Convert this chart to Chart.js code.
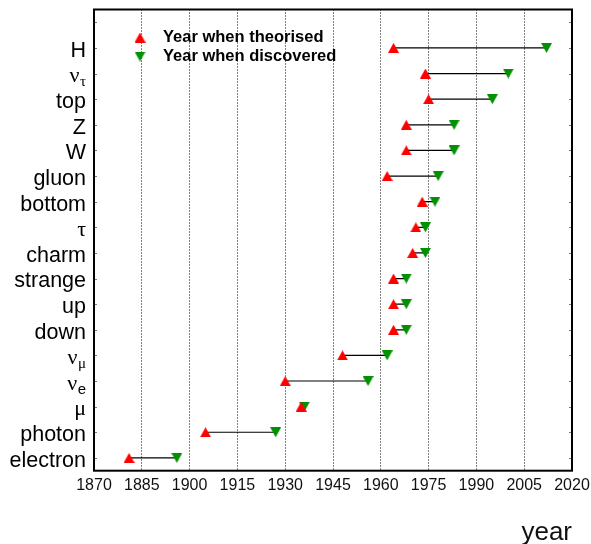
<!DOCTYPE html>
<html>
<head>
<meta charset="utf-8">
<title>Particles: theorised vs discovered</title>
<script src="https://cdn.jsdelivr.net/npm/chart.js@4/dist/chart.umd.min.js"></script>
<style>
  html, body { margin: 0; padding: 0; background: #fff; }
  canvas { display: block; }
</style>
</head>
<body>
<canvas id="chart" width="591" height="544"></canvas>
<script>
// rows listed top to bottom; "_" marks a subscript
const particles = ['H', 'ν_τ', 'top', 'Z', 'W', 'gluon', 'bottom', 'τ', 'charm',
  'strange', 'up', 'down', 'ν_μ', 'ν_e', 'μ', 'photon', 'electron'];
const theorised = [1964, 1974, 1975, 1968, 1968, 1962, 1973, 1971, 1970,
  1964, 1964, 1964, 1948, 1930, 1935, 1905, 1881];
const discovered = [2012, 2000, 1995, 1983, 1983, 1978, 1977, 1974, 1974,
  1968, 1968, 1968, 1962, 1956, 1936, 1927, 1896];
const yearTicks = [1870, 1885, 1900, 1915, 1930, 1945, 1960, 1975, 1990, 2005, 2020];

const SANS = '"Liberation Sans", Arial, sans-serif';
const SERIF = '"Liberation Serif", "Times New Roman", serif';
const RED = '#ff0000';
const GREEN = '#009000';

// row 0 is the bottom line, one empty slot stays free at the top
const rowOf = i => particles.length - 1 - i;

function triangle(color, up) {
  const c = document.createElement('canvas');
  c.width = 11; c.height = 10;
  const g = c.getContext('2d');
  g.fillStyle = color;
  g.beginPath();
  if (up) { g.moveTo(5.5, 0); g.lineTo(11, 10); g.lineTo(0, 10); }
  else { g.moveTo(0, 0); g.lineTo(11, 0); g.lineTo(5.5, 10); }
  g.closePath();
  g.fill();
  return c;
}
const upRed = triangle(RED, true);
const downGreen = triangle(GREEN, false);

const isGreek = s => /[\u0370-\u03ff]/.test(s);

// connector lines, one per particle
const spans = particles.map((p, i) => ({
  type: 'line',
  data: [{x: theorised[i], y: rowOf(i)}, {x: discovered[i], y: rowOf(i)}],
  borderColor: '#000',
  borderWidth: 1.2,
  pointRadius: 0,
  order: 2
}));

const framePlugin = {
  id: 'frameAndLabels',
  afterDraw(chart) {
    const {ctx, chartArea: a, scales: {y}} = chart;
    ctx.save();

    // small inward ticks on both vertical axes
    ctx.strokeStyle = '#777';
    ctx.lineWidth = 1;
    for (let v = 0; v <= particles.length; v++) {
      const py = Math.round(y.getPixelForValue(v)) + 0.5;
      ctx.beginPath();
      ctx.moveTo(a.left, py); ctx.lineTo(a.left + 3, py);
      ctx.moveTo(a.right - 3, py); ctx.lineTo(a.right, py);
      ctx.stroke();
    }

    // frame
    ctx.strokeStyle = '#000';
    ctx.lineWidth = 2;
    ctx.strokeRect(a.left, a.top, a.right - a.left, a.bottom - a.top);

    // particle names
    ctx.fillStyle = '#000';
    ctx.textAlign = 'right';
    ctx.textBaseline = 'middle';
    particles.forEach((name, i) => {
      const py = y.getPixelForValue(rowOf(i)) + 3;
      const [main, sub] = name.split('_');
      let x = a.left - 8;
      if (sub) {
        ctx.font = isGreek(sub) ? `15px ${SERIF}` : `15px ${SANS}`;
        ctx.fillText(sub, x, py + 6);
        x -= ctx.measureText(sub).width + 0.5;
      }
      ctx.font = isGreek(main) ? `22px ${SERIF}` : `21.5px ${SANS}`;
      ctx.fillText(main, x, py);
    });

    // legend
    const lx = a.left + 46;
    const ly1 = a.top + 28, ly2 = a.top + 47;
    ctx.drawImage(upRed, lx - 5.5, ly1 - 5);
    ctx.drawImage(downGreen, lx - 5.5, ly2 - 5);
    ctx.textAlign = 'left';
    ctx.font = `bold 16.5px ${SANS}`;
    ctx.fillText('Year when theorised', lx + 23, ly1);
    ctx.fillText('Year when discovered', lx + 23, ly2);

    ctx.restore();
  }
};

new Chart(document.getElementById('chart'), {
  data: {
    datasets: [
      {
        type: 'scatter',
        label: 'Year when theorised',
        data: theorised.map((t, i) => ({x: t, y: rowOf(i)})),
        pointStyle: upRed,
        order: 0
      },
      {
        type: 'scatter',
        label: 'Year when discovered',
        data: discovered.map((d, i) => ({x: d, y: rowOf(i)})),
        pointStyle: downGreen,
        order: 1
      },
      ...spans
    ]
  },
  options: {
    responsive: false,
    animation: false,
    events: [],
    layout: { padding: { left: 94, top: 9.5, right: 19, bottom: 0 } },
    plugins: { legend: { display: false }, tooltip: { enabled: false } },
    scales: {
      x: {
        type: 'linear',
        min: 1870,
        max: 2020,
        afterBuildTicks: s => { s.ticks = yearTicks.map(v => ({value: v})); },
        afterFit: s => {
          // fixed axis band; end labels may overhang the padding
          s.height = 73.3;
          s.paddingLeft = 0;
          s.paddingRight = 0;
        },
        ticks: {
          callback: v => String(v),
          font: { family: SANS, size: 16 },
          color: '#111',
          padding: 5,
          maxRotation: 0,
          autoSkip: false
        },
        grid: {
          color: c => (c.tick && (c.tick.value === 1870 || c.tick.value === 2020)) ? 'rgba(0,0,0,0)' : '#000',
          lineWidth: 1,
          drawTicks: false
        },
        border: { display: false, dash: [1, 2] },
        title: {
          display: true,
          text: 'year',
          align: 'end',
          color: '#111',
          font: { family: SANS, size: 26, lineHeight: 0.85 },
          padding: { top: 21, bottom: 0 }
        }
      },
      y: {
        type: 'linear',
        min: -0.5,
        max: particles.length + 0.5,
        afterBuildTicks: s => {
          s.ticks = particles.concat(['']).map((_, v) => ({value: v}));
        },
        afterFit: s => { s.width = 0; },
        ticks: { display: false },
        grid: { display: false },
        border: { display: false }
      }
    }
  },
  plugins: [framePlugin]
});
</script>
</body>
</html>
